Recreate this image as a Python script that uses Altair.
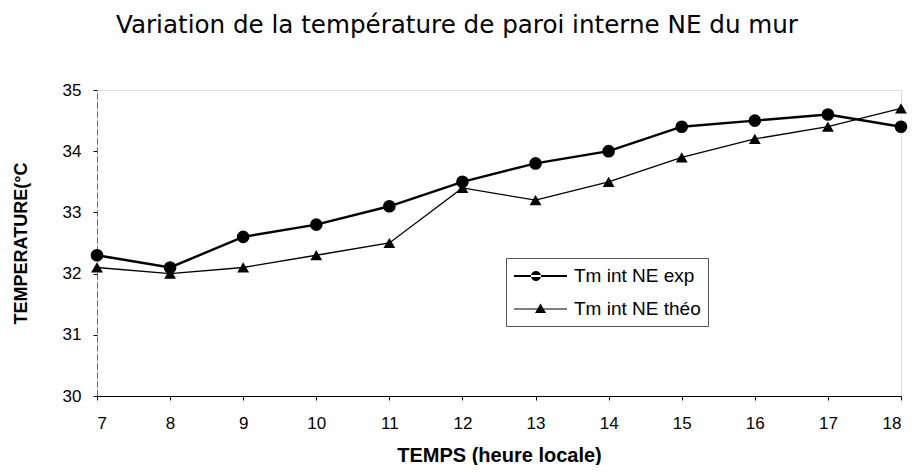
import altair as alt
import pandas as pd

hours = [7, 8, 9, 10, 11, 12, 13, 14, 15, 16, 17, 18]
exp_vals = [32.3, 32.1, 32.6, 32.8, 33.1, 33.5, 33.8, 34.0, 34.4, 34.5, 34.6, 34.4]
theo_vals = [32.1, 32.0, 32.1, 32.3, 32.5, 33.4, 33.2, 33.5, 33.9, 34.2, 34.4, 34.7]
series_names = ["Tm int NE exp", "Tm int NE théo"]
y_ticks = [30, 31, 32, 33, 34, 35]

df = pd.DataFrame(
    {
        "heure": hours + hours,
        "temp": exp_vals + theo_vals,
        "serie": [series_names[0]] * len(hours) + [series_names[1]] * len(hours),
    }
)

FONT = "Liberation Sans"

x_enc = alt.X(
    "heure:Q",
    scale=alt.Scale(domain=[7, 18], nice=False, zero=False),
    axis=alt.Axis(
        values=hours,
        format="d",
        title="TEMPS (heure locale)",
        grid=False,
        domainColor="black",
        domainWidth=1.2,
        tickColor="black",
        tickSize=4,
        labelPadding=15,
        labelFontSize=17,
        labelFont=FONT,
        labelColor="black",
        titleFont=FONT,
        titleFontSize=20,
        titleFontWeight="bold",
        titleColor="black",
        titlePadding=14,
    ),
)
y_enc = alt.Y(
    "temp:Q",
    scale=alt.Scale(domain=[30, 35], nice=False, zero=False),
    axis=alt.Axis(
        values=y_ticks,
        format="d",
        title="TEMPERATURE(°C",
        grid=False,
        domainColor="#666",
        domainDash=[6, 3],
        tickColor="black",
        tickSize=4,
        labelPadding=12,
        labelFontSize=17,
        labelFont=FONT,
        labelColor="black",
        titleFont=FONT,
        titleFontSize=18,
        titleFontWeight="bold",
        titleColor="black",
        titlePadding=32,
    ),
)

base = alt.Chart(df)

line_exp = base.transform_filter(alt.datum.serie == series_names[0]).mark_line(
    color="black", strokeWidth=2.4
).encode(x=x_enc, y=y_enc)

line_theo = base.transform_filter(alt.datum.serie == series_names[1]).mark_line(
    color="black", strokeWidth=1.3
).encode(x=x_enc, y=y_enc)

points = base.mark_point(filled=True, color="black", opacity=1).encode(
    x=x_enc,
    y=y_enc,
    shape=alt.Shape(
        "serie:N",
        scale=alt.Scale(domain=series_names, range=["circle", "triangle-up"]),
        legend=None,
    ),
    size=alt.Size(
        "serie:N",
        scale=alt.Scale(domain=series_names, range=[160, 140]),
        legend=None,
    ),
)

# legend symbols: a thin horizontal bar with the marker on it
circle_path = (
    "M-1,-0.09 L4.3,-0.09 L4.3,0.09 L-1,0.09 Z "
    "M0.7,0 A0.5,0.5 0 1,0 1.7,0 A0.5,0.5 0 1,0 0.7,0 Z"
)
tri_path = (
    "M-1,-0.06 L4.3,-0.06 L4.3,0.06 L-1,0.06 Z "
    "M1.65,-0.55 L2.2,0.4 L1.1,0.4 Z"
)

legend_layer = base.transform_filter("false").mark_point(
    filled=True, fill="black", opacity=1
).encode(
    x=x_enc,
    y=y_enc,
    shape=alt.Shape(
        "serie:N",
        scale=alt.Scale(domain=series_names, range=[circle_path, tri_path]),
        legend=alt.Legend(
            title=None,
            orient="none",
            legendX=409,
            legendY=168,
            symbolSize=400,
            symbolFillColor="black",
            symbolOpacity=1,
            labelOffset=39,
            labelFont=FONT,
            labelFontSize=19,
            labelColor="black",
            rowPadding=12,
            padding=7,
            strokeColor="#555",
        ),
    ),
)

chart = (
    alt.layer(line_exp, line_theo, points, legend_layer)
    .resolve_scale(shape="independent", size="independent")
    .resolve_legend(shape="independent", size="independent")
    .properties(
        width=804,
        height=306,
        padding={"left": 4, "top": 5, "right": 0, "bottom": 0},
        title=alt.TitleParams(
            "Variation de la température de paroi interne NE du mur",
            font="DejaVu Sans",
            fontSize=24.6,
            fontWeight="normal",
            color="black",
            anchor="start",
            frame="group",
            dx=19,
            offset=42,
        ),
    )
    .configure_view(stroke=None)
    .configure_legend(strokeDash=[6, 3])
    .configure(background="white")
)

chart.save("out.html", embed_options={"renderer": "svg", "actions": False})
